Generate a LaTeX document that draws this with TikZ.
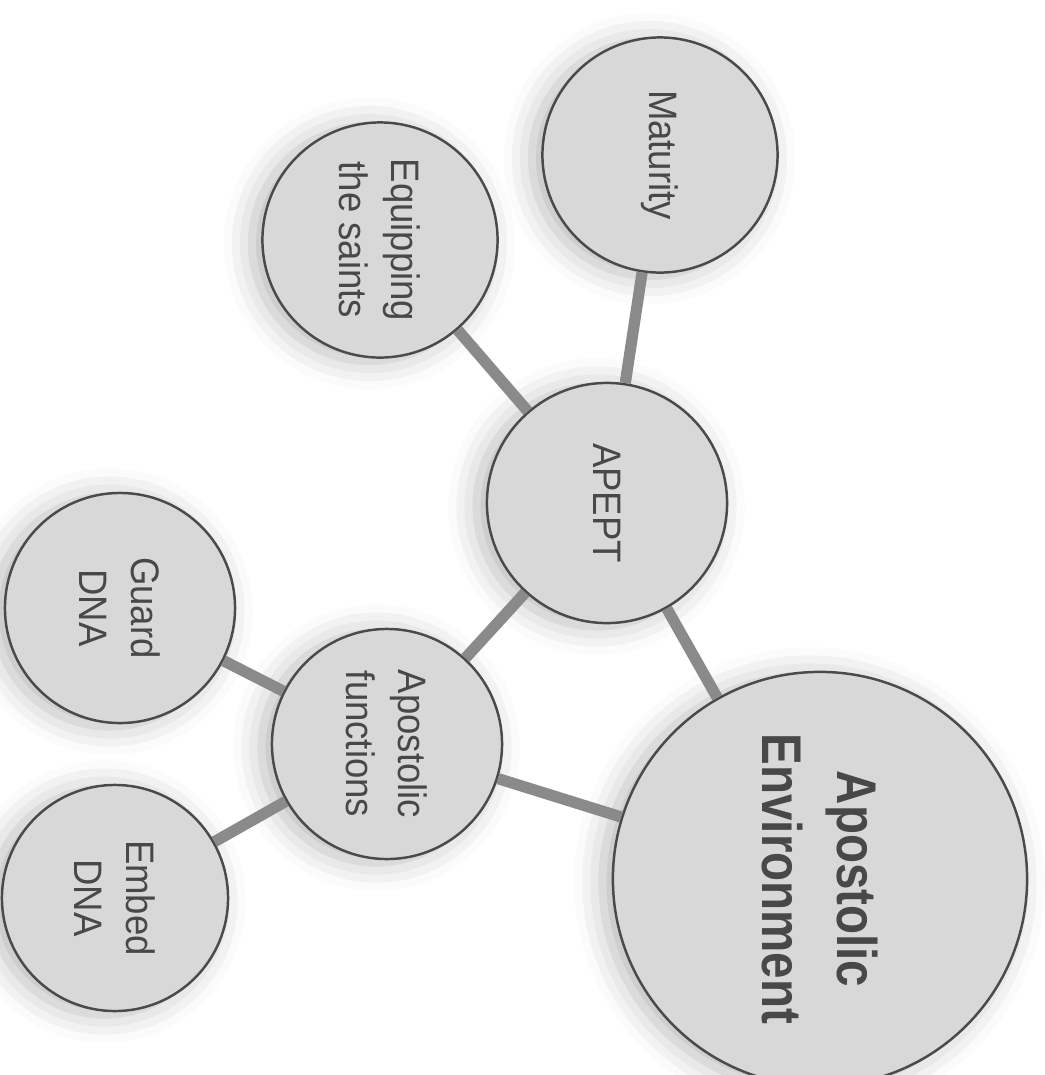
\documentclass[tikz,border=0pt]{standalone}
\usepackage{fontspec}
\setmainfont{Liberation Sans}
\newfontfamily\discfont[FakeStretch=0.92]{Liberation Sans}
\newfontfamily\hubfont[FakeStretch=0.85]{Liberation Sans}
\usepackage{xcolor}
\usepackage{tikz}
\usetikzlibrary{shadows.blur}

\definecolor{discfill}{HTML}{D8D8D8}
\definecolor{discline}{HTML}{4A4A4A}
\definecolor{disctext}{HTML}{484848}
\definecolor{linkgray}{HTML}{8A8A8A}

\begin{document}
\begin{tikzpicture}[
  x=0.01cm, y=-0.01cm,
  disc/.style={circle, draw=discline, line width=0.7pt, fill=discfill, text=disctext,
    minimum size=#1, inner sep=0pt, align=center, rotate=-90,
    font=\discfont\fontsize{11.3}{14.8}\selectfont,
    blur shadow={shadow xshift=-3pt, shadow yshift=-1pt, shadow blur radius=8pt, shadow opacity=28}},
  disc/.default=2.35cm,
  hub/.style={disc=#1, font=\hubfont\bfseries\fontsize{15.9}{21.6}\selectfont},
  link/.style={draw=linkgray, line width=3.2pt},
]
\useasboundingbox (0,0) rectangle (1045,1075);

% === OUTER RING ===
\node[disc] (maturity) at (660,155) {Maturity};
\node[disc] (equip) at (380,240) {Equipping\\the saints};

% === MIDDLE ===
\node[disc=2.4cm] (apept) at (607,503) {APEPT};
\node[disc=2.3cm] (functions) at (387,744) {Apostolic\\functions};

% DNA pair
\node[disc=2.3cm] (guard) at (120,608) {Guard\\DNA};
\node[disc=2.26cm] (embed) at (115,898) {Embed\\DNA};

% === CORE ===
\node[hub=4.14cm] (environment) at (820,879) {Apostolic\\Environment};

% === LINKS ===
\draw[link] (maturity) -- (apept);
\draw[link] (equip) -- (apept);
\draw[link] (apept) -- (functions);
\draw[link] (apept) -- (environment);
\draw[link] (functions) -- (environment);
\draw[link] (functions) -- (guard);
\draw[link] (functions) -- (embed);

\end{tikzpicture}
\end{document}
